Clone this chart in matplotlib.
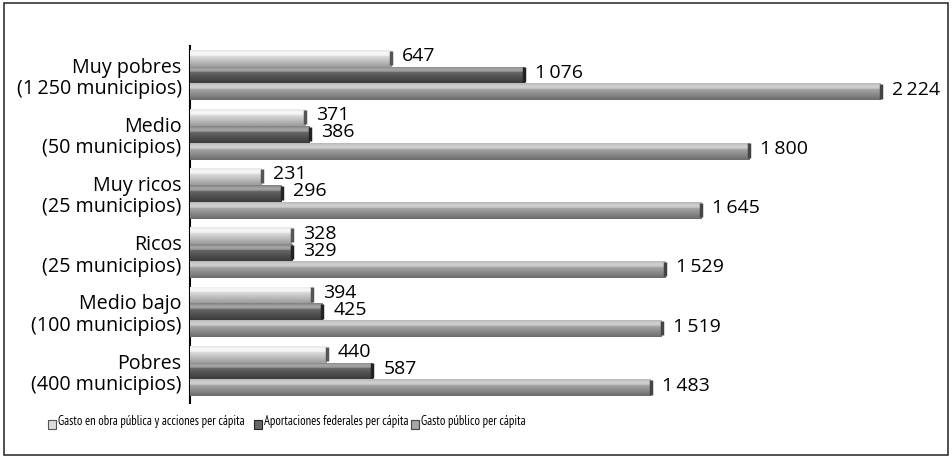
import numpy as np
import matplotlib.pyplot as plt
from matplotlib.patches import Rectangle

plt.rcParams['font.family'] = ['Open Sans', 'DejaVu Sans']

# data
categorias = ["Muy pobres\n(1\u2009250 municipios)", "Medio\n(50 municipios)",
              "Muy ricos\n(25 municipios)", "Ricos\n(25 municipios)",
              "Medio bajo\n(100 municipios)", "Pobres\n(400 municipios)"]
obra_publica = [647, 371, 231, 328, 394, 440]
aportaciones = [1076, 386, 296, 329, 425, 587]
gasto_publico = [2224, 1800, 1645, 1529, 1519, 1483]
series_names = ["Gasto en obra pública y acciones per cápita",
                "Aportaciones federales per cápita",
                "Gasto público per cápita"]

# gradient colours (top highlight, middle, bottom shadow) for each series
grads = [["#f8f8f8", "#dcdcdc", "#9c9c9c"],
         ["#a8a8a8", "#666666", "#3a3a3a"],
         ["#d2d2d2", "#a6a6a6", "#6c6c6c"]]
cap_colors = ["#555555", "#222222", "#444444"]


def hex2rgb(hx):
    return np.array([int(hx[i:i + 2], 16) / 255 for i in (1, 3, 5)])


def make_grad(cols, n=40):
    c0, c1, c2 = [hex2rgb(c) for c in cols]
    out = []
    for v in np.linspace(0, 1, n):
        if v < 0.35:
            # highlight peaks a bit under the top edge
            out.append(c1 + (c0 - c1) * (1 - abs(v - 0.2) / 0.35))
        else:
            f = (v - 0.35) / 0.65
            out.append(c1 * (1 - f) + c2 * f)
    return np.clip(np.array(out), 0, 1).reshape(n, 1, 3)


fig = plt.figure(figsize=(9.52, 4.57), dpi=100)
ax = fig.add_axes([190 / 952, 1 - 403 / 457, (945 - 190) / 952, (403 - 46) / 457])

n = len(categorias)
ypos = np.arange(n)[::-1].astype(float)
h = 0.285
all_series = [obra_publica, aportaciones, gasto_publico]
offsets = [h, 0, -h]

for k, vals in enumerate(all_series):
    bars = ax.barh(ypos + offsets[k], vals, height=h, color=grads[k][1], edgecolor='none', zorder=2)
    g = make_grad(grads[k])
    for b, v in zip(bars, vals):
        x0, y0 = b.get_x(), b.get_y()
        w, hh = b.get_width(), b.get_height()
        im = ax.imshow(g, extent=[x0, x0 + w, y0, y0 + hh], aspect='auto', origin='upper',
                       zorder=3, interpolation='bilinear')
        im.set_clip_path(b)
        # dark end of the bar
        ax.plot([v, v], [y0 + hh * 0.1, y0 + hh * 0.95], color=cap_colors[k], lw=2.5,
                solid_capstyle='butt', zorder=4)
        txt = f"{v:,}".replace(",", "\u2009")
        ax.annotate(txt, (v, y0 + hh / 2), xytext=(8, 1.5), textcoords='offset points',
                    va='center', ha='left', fontsize=14, color='black')

ax.set_xlim(0, 2430)
ax.set_ylim(-0.54, n - 1 + 0.49)
ax.set_yticks(ypos)
ax.set_yticklabels(categorias, fontsize=14.2, linespacing=1.1)
ax.tick_params(axis='y', length=0, pad=6)
ax.set_xticks([])
for s in ['top', 'right', 'bottom']:
    ax.spines[s].set_visible(False)
ax.spines['left'].set_linewidth(1.5)
ax.spines['left'].set_color('black')

# legend drawn by hand at the bottom
leg_x = [48, 254, 411]
for k in range(3):
    sq = Rectangle((leg_x[k] / 952, 1 - 429 / 457), 8 / 952, 9 / 457, transform=fig.transFigure,
                   facecolor=grads[k][1], edgecolor=cap_colors[k], lw=0.8)
    fig.patches.append(sq)
    fig.text((leg_x[k] + 10) / 952, 1 - 422 / 457, series_names[k], fontsize=9,
             va='center', ha='left', family=['PT Sans Narrow', 'DejaVu Sans'])

# frame around the whole figure
fig.patches.append(Rectangle((4 / 952, 2 / 457), 944 / 952, 452 / 457, transform=fig.transFigure,
                             fill=False, edgecolor='#333333', lw=1.2))

fig.savefig("out.png", dpi=100)
